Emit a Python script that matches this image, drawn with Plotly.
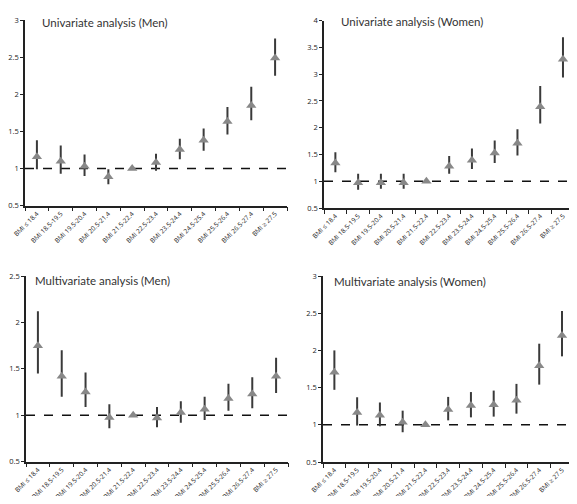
import plotly.graph_objects as go

categories = ["BMI ≤ 18.4", "BMI 18.5-19.5", "BMI 19.5-20.4", "BMI 20.5-21.4",
              "BMI 21.5-22.4", "BMI 22.5-23.4", "BMI 23.5-24.4", "BMI 24.5-25.4",
              "BMI 25.5-26.4", "BMI 26.5-27.4", "BMI ≥ 27.5"]

uni_men_or = [1.16, 1.10, 1.03, 0.89, 1.00, 1.08, 1.255, 1.38, 1.635, 1.85, 2.49]
uni_men_lo = [0.99, 0.93, 0.90, 0.79, 1.00, 0.97, 1.125, 1.24, 1.46, 1.65, 2.25]
uni_men_hi = [1.38, 1.31, 1.19, 0.99, 1.00, 1.20, 1.40, 1.54, 1.83, 2.10, 2.75]

uni_women_or = [1.34, 0.97, 0.97, 0.97, 1.00, 1.28, 1.39, 1.53, 1.71, 2.39, 3.28]
uni_women_lo = [1.17, 0.84, 0.86, 0.86, 1.00, 1.14, 1.23, 1.34, 1.48, 2.08, 2.94]
uni_women_hi = [1.54, 1.14, 1.14, 1.14, 1.00, 1.47, 1.61, 1.76, 1.97, 2.78, 3.69]

multi_men_or = [1.75, 1.42, 1.25, 0.975, 1.00, 0.97, 1.03, 1.065, 1.18, 1.23, 1.42]
multi_men_lo = [1.45, 1.20, 1.09, 0.86, 1.00, 0.87, 0.92, 0.95, 1.05, 1.075, 1.24]
multi_men_hi = [2.12, 1.70, 1.46, 1.12, 1.00, 1.09, 1.15, 1.20, 1.34, 1.41, 1.62]

multi_women_or = [1.705, 1.165, 1.13, 1.035, 1.00, 1.205, 1.26, 1.27, 1.33, 1.795, 2.20]
multi_women_lo = [1.47, 0.99, 0.98, 0.90, 1.00, 1.06, 1.10, 1.11, 1.15, 1.54, 1.92]
multi_women_hi = [2.00, 1.37, 1.30, 1.19, 1.00, 1.375, 1.44, 1.46, 1.55, 2.09, 2.53]

titles = ["Univariate analysis (Men)", "Univariate analysis (Women)",
          "Multivariate analysis (Men)", "Multivariate analysis (Women)"]
y_ranges = [[0.5, 3], [0.5, 4], [0.5, 2.5], [0.5, 3]]
y_dticks = [0.5, 0.5, 0.5, 0.5]

panels = [(uni_men_or, uni_men_lo, uni_men_hi),
          (uni_women_or, uni_women_lo, uni_women_hi),
          (multi_men_or, multi_men_lo, multi_men_hi),
          (multi_women_or, multi_women_lo, multi_women_hi)]

# The page body has an 8px margin; keep the whole page inside the window.
OFF = 8
W, H = 577 - 2 * OFF, 504 - 2 * OFF
RIGHT = 577 - OFF
# pixel layout of each panel in the window: (x_left, x_right, y_top, y_bottom)
boxes = [(25, 287, 20, 205.7), (324, RIGHT, 20.7, 208),
         (26, 288, 276, 461.7), (323, RIGHT, 276, 462)]
sp_w = 22.76
x_ranges = [[-0.5, 10.5], [-0.5, -0.5 + (RIGHT - 324) / sp_w],
            [-0.5, 10.5], [-0.5, -0.5 + (RIGHT - 323) / sp_w]]
title_pos = [(40, 23), (339, 22), (33, 280), (332, 281)]


def px_x(p):
    return (p - OFF) / W


def px_y(p):
    return 1 - (p - OFF) / H


fig = go.Figure()
tick_font = dict(family="Open Sans", size=6.5, color="#222222")
for i, (orv, lo, hi) in enumerate(panels):
    xa = "x" if i == 0 else f"x{i+1}"
    ya = "y" if i == 0 else f"y{i+1}"
    plus = [h - o for h, o in zip(hi, orv)]
    minus = [o - l for o, l in zip(orv, lo)]
    fig.add_trace(go.Scatter(
        x=categories, y=orv, mode="markers", xaxis=xa, yaxis=ya,
        marker=dict(symbol="triangle-up", size=9, color="#888888"),
        error_y=dict(type="data", symmetric=False, array=plus, arrayminus=minus,
                     color="#3a3a3a", thickness=2, width=0),
        showlegend=False, hoverinfo="skip", cliponaxis=False))
    xl, xr, yt, yb = boxes[i]
    xkey = "xaxis" if i == 0 else f"xaxis{i+1}"
    ykey = "yaxis" if i == 0 else f"yaxis{i+1}"
    fig.layout[xkey] = dict(
        domain=[px_x(xl), min(px_x(xr), 1.0)], anchor=ya, type="category",
        range=x_ranges[i], categoryorder="array", categoryarray=categories,
        showline=True, linecolor="#222222", linewidth=1.5,
        ticks="outside", ticklen=4, tickwidth=1, tickcolor="#222222",
        tickson="boundaries", tickangle=-45, tickfont=tick_font,
        showgrid=False, zeroline=False, fixedrange=True, automargin=False)
    fig.layout[ykey] = dict(
        domain=[max(px_y(yb), 0.0), px_y(yt)], anchor=xa, range=y_ranges[i],
        dtick=y_dticks[i], tick0=0.5,
        showline=True, linecolor="#222222", linewidth=1.5,
        ticks="outside", ticklen=3, tickwidth=1, tickcolor="#222222",
        tickfont=dict(family="Open Sans", size=7.5, color="#222222"),
        showgrid=False, zeroline=False, fixedrange=True, automargin=False)
    fig.add_shape(type="line", xref=f"{xa} domain", yref=ya,
                  x0=0, x1=1, y0=1, y1=1,
                  line=dict(color="#111111", width=1.5, dash="dash"), layer="below")
    tx, ty = title_pos[i]
    fig.add_annotation(text=titles[i], xref="paper", yref="paper",
                       x=px_x(tx), y=px_y(ty), xanchor="left", yanchor="middle",
                       showarrow=False,
                       font=dict(family="Lato", size=11.5, color="#333333"))

fig.update_layout(width=W, height=H, margin=dict(l=0, r=0, t=0, b=0),
                  paper_bgcolor="white", plot_bgcolor="white")
fig.write_html("out.html")
